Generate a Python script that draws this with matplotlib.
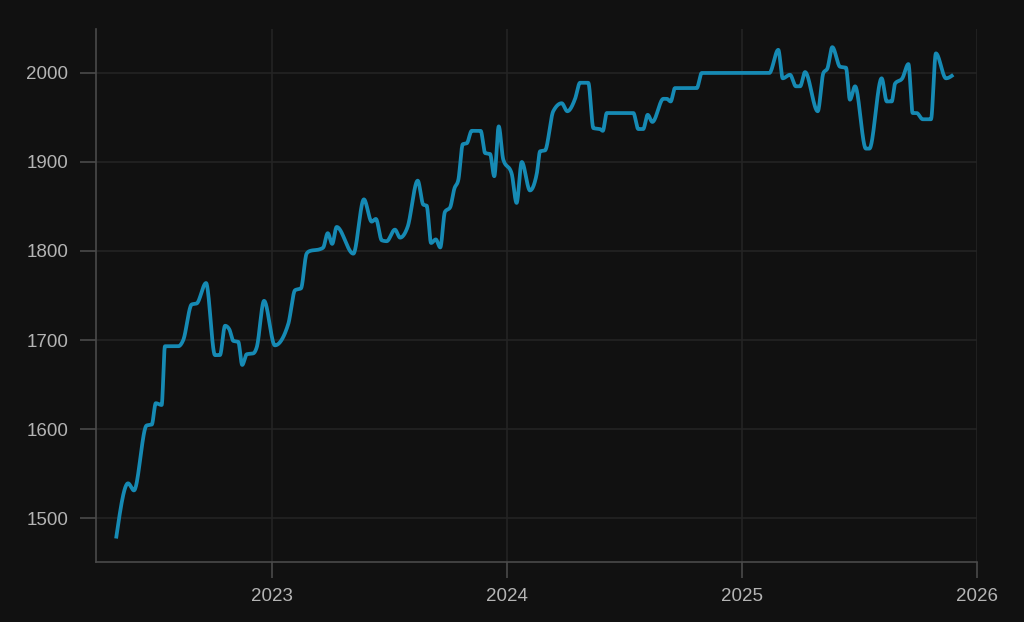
import numpy as np
import matplotlib
matplotlib.use("Agg")
import matplotlib.pyplot as plt

# decimal-year dates and values
dates = [2022.335, 2022.386, 2022.411, 2022.465, 2022.487, 2022.504, 2022.529, 2022.543,
         2022.600, 2022.621, 2022.657, 2022.678, 2022.718, 2022.756, 2022.777, 2022.799,
         2022.817, 2022.834, 2022.855, 2022.872, 2022.891, 2022.919, 2022.934, 2022.965,
         2023.011, 2023.068, 2023.097, 2023.122, 2023.146, 2023.160, 2023.203, 2023.217,
         2023.236, 2023.255, 2023.274, 2023.345, 2023.390, 2023.423, 2023.441, 2023.466,
         2023.487, 2023.522, 2023.544, 2023.576, 2023.619, 2023.643, 2023.657, 2023.676,
         2023.696, 2023.715, 2023.735, 2023.757, 2023.775, 2023.792, 2023.811, 2023.828,
         2023.849, 2023.887, 2023.906, 2023.927, 2023.945, 2023.964, 2023.983, 2024.019,
         2024.040, 2024.062, 2024.097, 2024.126, 2024.140, 2024.161, 2024.196, 2024.232,
         2024.256, 2024.289, 2024.310, 2024.345, 2024.367, 2024.395, 2024.407, 2024.424,
         2024.537, 2024.558, 2024.579, 2024.598, 2024.618, 2024.665, 2024.679, 2024.696,
         2024.714, 2024.807, 2024.828, 2025.116, 2025.154, 2025.173, 2025.204, 2025.229,
         2025.247, 2025.268, 2025.322, 2025.346, 2025.363, 2025.384, 2025.417, 2025.442,
         2025.459, 2025.481, 2025.527, 2025.542, 2025.594, 2025.616, 2025.637, 2025.651,
         2025.682, 2025.708, 2025.726, 2025.743, 2025.769, 2025.804, 2025.825, 2025.868,
         2025.899]
values = [1477, 1539, 1531, 1604, 1605, 1629, 1627, 1693,
          1693, 1700, 1740, 1741, 1764, 1683, 1683, 1716,
          1712, 1699, 1698, 1672, 1684, 1685, 1692, 1744,
          1694, 1718, 1756, 1758, 1797, 1800, 1802, 1804,
          1820, 1808, 1827, 1797, 1858, 1833, 1836, 1812,
          1811, 1824, 1815, 1827, 1879, 1852, 1851, 1809,
          1813, 1804, 1844, 1849, 1870, 1880, 1920, 1921,
          1935, 1935, 1910, 1909, 1884, 1940, 1903, 1887,
          1854, 1900, 1868, 1887, 1912, 1913, 1957, 1966,
          1957, 1971, 1989, 1989, 1938, 1937, 1935, 1955,
          1955, 1937, 1937, 1953, 1945, 1971, 1971, 1968,
          1983, 1983, 2000, 2000, 2026, 1994, 1998, 1985,
          1985, 2001, 1957, 2000, 2005, 2029, 2007, 2006,
          1970, 1985, 1915, 1915, 1994, 1968, 1968, 1988,
          1994, 2010, 1955, 1955, 1948, 1948, 2022, 1994,
          1998]
year_ticks = [2023, 2024, 2025, 2026]
value_ticks = [1500, 1600, 1700, 1800, 1900, 2000]


def monotone_curve(x, y, n=30):
    x = np.asarray(x, float)
    y = np.asarray(y, float)
    h = np.diff(x)
    s = np.diff(y) / h
    m = np.zeros_like(y)
    for i in range(1, len(x) - 1):
        s0, s1 = s[i - 1], s[i]
        p = (s0 * h[i] + s1 * h[i - 1]) / (h[i - 1] + h[i])
        m[i] = (np.sign(s0) + np.sign(s1)) * min(abs(s0), abs(s1), 0.5 * abs(p))
    m[0] = (3 * s[0] - m[1]) / 2
    m[-1] = (3 * s[-1] - m[-2]) / 2
    xs, ys = [], []
    for i in range(len(x) - 1):
        t = np.linspace(0, 1, n, endpoint=False)
        h00 = 2 * t**3 - 3 * t**2 + 1
        h10 = t**3 - 2 * t**2 + t
        h01 = -2 * t**3 + 3 * t**2
        h11 = t**3 - t**2
        xs.append(x[i] + t * h[i])
        ys.append(h00 * y[i] + h10 * h[i] * m[i] + h01 * y[i + 1] + h11 * h[i] * m[i + 1])
    xs.append([x[-1]])
    ys.append([y[-1]])
    return np.concatenate(xs), np.concatenate(ys)


bg = "#111111"
fig = plt.figure(figsize=(10.24, 6.22), dpi=100, facecolor=bg)
ax = fig.add_axes([96 / 1024, 60 / 622, (977 - 96) / 1024, (562 - 29) / 622])
ax.set_facecolor(bg)

cx, cy = monotone_curve(dates, values)
ax.plot(cx, cy, color="#168ab4", lw=2.7, solid_capstyle="butt", zorder=3)

ax.set_xlim(2022.2495, 2026.0)
ax.set_ylim(1450.6, 2049.4)
ax.set_xticks(year_ticks)
ax.set_xticklabels([str(t) for t in year_ticks])
ax.set_yticks(value_ticks)
ax.set_yticklabels([str(t) for t in value_ticks])

ax.grid(True, color="#242424", lw=1.2, zorder=0)
for side in ["top", "right"]:
    ax.spines[side].set_visible(False)
for side in ["left", "bottom"]:
    ax.spines[side].set_color("#4a4a4a")
    ax.spines[side].set_linewidth(1.2)
ax.tick_params(axis="both", colors="#4a4a4a", length=11.5, width=1.2,
               labelcolor="#b4b4b4", labelsize=13.5)
ax.tick_params(axis="y", pad=8.5)
ax.tick_params(axis="x", pad=7)
for lab in ax.get_xticklabels() + ax.get_yticklabels():
    lab.set_fontfamily(["Liberation Sans", "DejaVu Sans"])

fig.savefig("out.png", dpi=100, facecolor=bg)
